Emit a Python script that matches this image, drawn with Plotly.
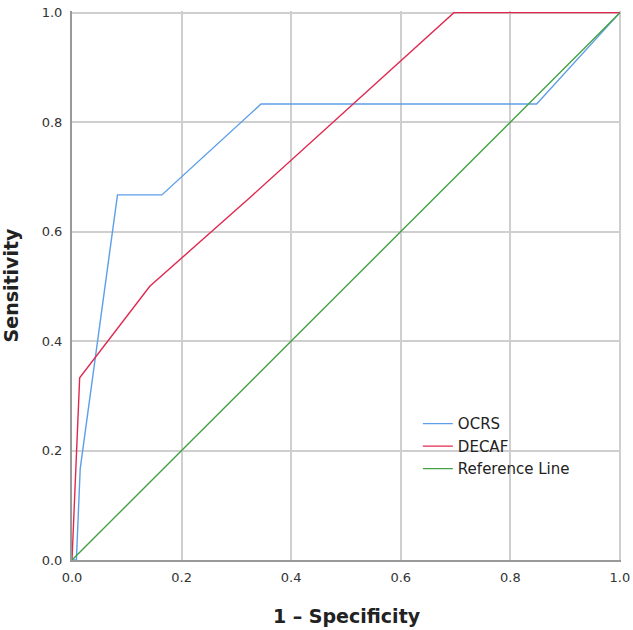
import plotly.graph_objects as go

ocrs_x = [0.0, 0.008, 0.015, 0.083, 0.164, 0.345, 0.848, 1.0]
ocrs_y = [0.0, 0.0, 0.167, 0.667, 0.667, 0.833, 0.833, 1.0]
decaf_x = [0.0, 0.014, 0.142, 0.33, 0.697, 1.0]
decaf_y = [0.0, 0.333, 0.5, 0.667, 1.0, 1.0]
ref_x = [0.0, 1.0]
ref_y = [0.0, 1.0]
tick_vals = [0.0, 0.2, 0.4, 0.6, 0.8, 1.0]
tick_text = ["0.0", "0.2", "0.4", "0.6", "0.8", "1.0"]

fig = go.Figure()
fig.add_trace(go.Scatter(x=ocrs_x, y=ocrs_y, mode="lines", name="OCRS",
                         line=dict(color="#5d9ee8", width=1.4)))
fig.add_trace(go.Scatter(x=decaf_x, y=decaf_y, mode="lines", name="DECAF",
                         line=dict(color="#e0284f", width=1.4)))
fig.add_trace(go.Scatter(x=ref_x, y=ref_y, mode="lines", name="Reference Line",
                         line=dict(color="#45a045", width=1.4)))

fig.update_layout(
    width=633, height=630,
    margin=dict(l=72, r=12, t=11, b=70),
    paper_bgcolor="white", plot_bgcolor="white",
    font=dict(family="DejaVu Sans", size=13, color="#222222"),
    showlegend=True,
    legend=dict(x=0.63, y=0.278, xanchor="left", yanchor="top",
                bgcolor="rgba(0,0,0,0)", font=dict(size=15, family="DejaVu Sans", color="#222222"),
                tracegroupgap=0, itemwidth=30),
    xaxis=dict(range=[0, 1.002], tickvals=tick_vals, ticktext=tick_text,
               showgrid=True, gridcolor="#cfcfcf", gridwidth=1.5,
               showline=True, linecolor="#999999", linewidth=2, mirror=False,
               zeroline=False, ticks="", ticklen=0, automargin=False,
               ticklabelstandoff=4,
               title=dict(text="1 – Specificity", font=dict(size=19, family="DejaVu Sans", color="#222222", weight="bold"), standoff=26),
               tickfont=dict(size=13, color="#333333")),
    yaxis=dict(range=[0, 1.003], tickvals=tick_vals, ticktext=tick_text,
               showgrid=True, gridcolor="#cfcfcf", gridwidth=1.5,
               showline=True, linecolor="#999999", linewidth=2, mirror=False,
               zeroline=False, ticks="", ticklen=0, automargin=False,
               ticklabelstandoff=5,
               title=dict(text="Sensitivity", font=dict(size=19, family="DejaVu Sans", color="#222222", weight="bold"), standoff=22),
               tickfont=dict(size=13, color="#333333")),
)

fig.write_html("out.html", config={"displayModeBar": False},
               post_script="document.body.style.margin='0';document.body.style.overflow='hidden';")
